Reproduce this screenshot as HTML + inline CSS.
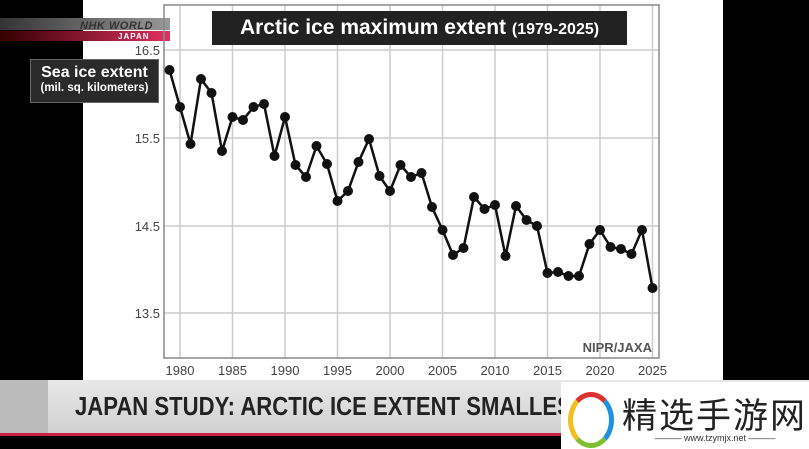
<!DOCTYPE html>
<html><head><meta charset="utf-8"><style>
body{margin:0;width:809px;height:449px;overflow:hidden;background:#000;position:relative;font-family:"Liberation Sans",sans-serif}
.abs{position:absolute}
</style></head><body>
<div class="abs" style="left:83px;top:0;width:640px;height:380px;background:#fff"></div>
<div class="abs" style="left:0;top:18px;width:170px;height:12px;background:linear-gradient(90deg,#333,#999)"></div>
<div class="abs" style="left:0;top:31px;width:170px;height:10px;background:linear-gradient(90deg,#300,#e03060)"></div>
<div class="abs" style="left:80px;top:20px;font:italic bold 11px 'Liberation Sans';color:#333;letter-spacing:0.5px">NHK WORLD</div>
<div class="abs" style="left:118px;top:32px;font:bold 8px 'Liberation Sans';color:#fff;letter-spacing:1px">JAPAN</div>
<svg class="abs" style="left:0;top:0" width="809" height="449">
<g stroke="#ccc" stroke-width="1.5">
<line x1="180" y1="5" x2="180" y2="358"/><line x1="232.5" y1="5" x2="232.5" y2="358"/><line x1="285" y1="5" x2="285" y2="358"/><line x1="337.5" y1="5" x2="337.5" y2="358"/><line x1="390" y1="5" x2="390" y2="358"/><line x1="442.5" y1="5" x2="442.5" y2="358"/><line x1="495" y1="5" x2="495" y2="358"/><line x1="547.5" y1="5" x2="547.5" y2="358"/><line x1="600" y1="5" x2="600" y2="358"/><line x1="652.5" y1="5" x2="652.5" y2="358"/>
<line x1="164" y1="50" x2="659" y2="50"/><line x1="164" y1="138" x2="659" y2="138"/><line x1="164" y1="226" x2="659" y2="226"/><line x1="164" y1="313" x2="659" y2="313"/>
</g>
<rect x="164" y="5" width="495" height="353" fill="none" stroke="#888" stroke-width="1.5"/>
<polyline fill="none" stroke="#111" stroke-width="2.5" points="169.5,70 180,107 190.5,144 201,79 211.5,93 222,151 232.5,117 243,120 253.5,107 264,104 274.5,156 285,117 295.5,165 306,177 316.5,146 327,164 337.5,201 348,191 358.5,162 369,139 379.5,176 390,191 400.5,165 411,177 421.5,173 432,207 442.5,230 453,255 463.5,248 474,197 484.5,209 495,205 505.5,256 516,206 526.5,220 537,226 547.5,273 558,272 568.5,276 579,276 589.5,244 600,230 610.5,247 621,249 631.5,254 642,230 652.5,288"/>
<g fill="#111">
<circle cx="169.5" cy="70" r="5"/><circle cx="180" cy="107" r="5"/><circle cx="190.5" cy="144" r="5"/><circle cx="201" cy="79" r="5"/><circle cx="211.5" cy="93" r="5"/><circle cx="222" cy="151" r="5"/><circle cx="232.5" cy="117" r="5"/><circle cx="243" cy="120" r="5"/><circle cx="253.5" cy="107" r="5"/><circle cx="264" cy="104" r="5"/><circle cx="274.5" cy="156" r="5"/><circle cx="285" cy="117" r="5"/><circle cx="295.5" cy="165" r="5"/><circle cx="306" cy="177" r="5"/><circle cx="316.5" cy="146" r="5"/><circle cx="327" cy="164" r="5"/><circle cx="337.5" cy="201" r="5"/><circle cx="348" cy="191" r="5"/><circle cx="358.5" cy="162" r="5"/><circle cx="369" cy="139" r="5"/><circle cx="379.5" cy="176" r="5"/><circle cx="390" cy="191" r="5"/><circle cx="400.5" cy="165" r="5"/><circle cx="411" cy="177" r="5"/><circle cx="421.5" cy="173" r="5"/><circle cx="432" cy="207" r="5"/><circle cx="442.5" cy="230" r="5"/><circle cx="453" cy="255" r="5"/><circle cx="463.5" cy="248" r="5"/><circle cx="474" cy="197" r="5"/><circle cx="484.5" cy="209" r="5"/><circle cx="495" cy="205" r="5"/><circle cx="505.5" cy="256" r="5"/><circle cx="516" cy="206" r="5"/><circle cx="526.5" cy="220" r="5"/><circle cx="537" cy="226" r="5"/><circle cx="547.5" cy="273" r="5"/><circle cx="558" cy="272" r="5"/><circle cx="568.5" cy="276" r="5"/><circle cx="579" cy="276" r="5"/><circle cx="589.5" cy="244" r="5"/><circle cx="600" cy="230" r="5"/><circle cx="610.5" cy="247" r="5"/><circle cx="621" cy="249" r="5"/><circle cx="631.5" cy="254" r="5"/><circle cx="642" cy="230" r="5"/><circle cx="652.5" cy="288" r="5"/>
</g>
<g font-family="Liberation Sans" font-size="13" fill="#444" text-anchor="end">
<text x="160" y="55">16.5</text><text x="160" y="143">15.5</text><text x="160" y="231">14.5</text><text x="160" y="318">13.5</text>
</g>
<g font-family="Liberation Sans" font-size="13" fill="#444" text-anchor="middle">
<text x="180" y="375">1980</text><text x="232.5" y="375">1985</text><text x="285" y="375">1990</text><text x="337.5" y="375">1995</text><text x="390" y="375">2000</text><text x="442.5" y="375">2005</text><text x="495" y="375">2010</text><text x="547.5" y="375">2015</text><text x="600" y="375">2020</text><text x="652.5" y="375">2025</text>
</g>
<text x="652" y="352" font-family="Liberation Sans" font-weight="bold" font-size="13" fill="#555" text-anchor="end">NIPR/JAXA</text>
</svg>
<div class="abs" style="left:212px;top:11px;width:415px;height:34px;background:#222;color:#fff;font-weight:bold;font-size:21px;line-height:34px;text-align:center">Arctic ice maximum extent <span style="font-size:16px">(1979-2025)</span></div>
<div class="abs" style="left:30px;top:59px;width:127px;height:42px;background:#2a2a2a;border:1px solid #666;color:#fff;font-weight:bold;text-align:center">
<div style="font-size:16px;margin-top:4px">Sea ice extent</div><div style="font-size:11.5px">(mil. sq. kilometers)</div></div>
<div class="abs" style="left:0;top:380px;width:809px;height:54px;background:linear-gradient(#e8e8e8,#d0d0d0)"></div>
<div class="abs" style="left:0;top:380px;width:48px;height:54px;background:#bbb"></div>
<div class="abs" style="left:0;top:433px;width:809px;height:3px;background:#d02040"></div>
<div class="abs" style="left:75px;top:391px;font-weight:bold;font-size:26px;color:#222;transform:scaleX(0.85);transform-origin:left">JAPAN STUDY: ARCTIC ICE EXTENT SMALLEST</div>
<div class="abs" style="left:561px;top:382px;width:248px;height:67px;background:#fff"></div>
<div class="abs" style="left:568px;top:392px;width:36px;height:46px;border-radius:50%;border:5px solid #f0a020;border-color:#e03030 #2090e0 #80c030 #f0c020"></div>
<div class="abs" style="left:622px;top:388px;font-family:'Liberation Sans','Noto Sans CJK SC',sans-serif;font-size:35px;color:#222;letter-spacing:2px">精选手游网</div>
<div class="abs" style="left:625px;top:433px;width:180px;font-size:9px;color:#333;text-align:center">——— www.tzymjx.net ———</div>
</body></html>
